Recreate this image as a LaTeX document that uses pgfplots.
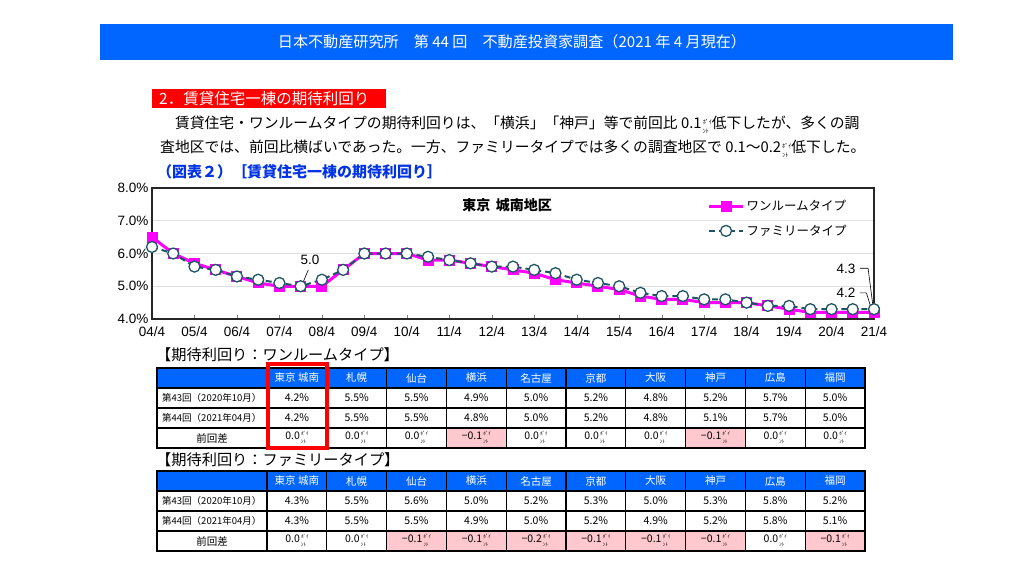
\documentclass[border=0pt]{standalone}
\usepackage{pgfplots}
\pgfplotsset{compat=1.18}
\usepackage{fontspec}
\setmainfont{Noto Sans CJK JP}
\newfontfamily\lib{Liberation Sans}
\definecolor{hdrblue}{RGB}{0,102,255}
\definecolor{ttl}{RGB}{0,51,230}
\definecolor{pinkcell}{RGB}{255,199,206}
\definecolor{mag}{RGB}{255,0,255}
\definecolor{teal2}{RGB}{30,85,100}
\newcommand\fs[1]{\fontsize{#1}{#1}\selectfont}
\newcommand\pnt[2]{\hspace{1.2pt}{\fontsize{#1}{#2}\selectfont\begin{tabular}[c]{@{}l@{}}ﾎﾟｲ\\ﾝﾄ\end{tabular}}}
\def\hdrs{東京 城南,札幌,仙台,横浜,名古屋,京都,大阪,神戸,広島,福岡}
\newcommand\drawtable[4]{%
 \fill[hdrblue] (157,-#1) rectangle (865,-#1-20);
 \foreach \v/\p [count=\i] in {#4} {\ifnum\p=1 \fill[pinkcell] ({267+(\i-1)*59.8},-#1-60) rectangle ({267+\i*59.8},-#1-80);\fi}
 \foreach \k in {0,20,40,60,80} {\draw[line width=1.1pt] (157,-#1-\k) -- (865,-#1-\k);}
 \foreach \i in {0,...,10} {\draw[line width=1.1pt] ({267+\i*59.8},-#1) -- ({267+\i*59.8},-#1-80);}
 \draw[line width=2pt] (157,-#1) rectangle (865,-#1-80);
 \foreach \h [count=\i] in \hdrs {\node[white,font=\fs{10.5},inner sep=0] at ({267+(\i-0.5)*59.8},-#1-10) {\h};}
 \node[anchor=west,font=\fs{9.5},inner sep=0] at (162,-#1-30) {第43回（2020年10月）};
 \node[anchor=west,font=\fs{9.5},inner sep=0] at (162,-#1-50) {第44回（2021年04月）};
 \node[font=\fs{10.5},inner sep=0] at (212,-#1-70) {前回差};
 \foreach \v [count=\i] in {#2} {\node[font=\fs{10.5},inner sep=0] at ({267+(\i-0.5)*59.8},-#1-30) {\v\%};}
 \foreach \v [count=\i] in {#3} {\node[font=\fs{10.5},inner sep=0] at ({267+(\i-0.5)*59.8},-#1-50) {\v\%};}
 \foreach \v/\p [count=\i] in {#4} {\node[font=\fs{10.5},inner sep=0] at ({267+(\i-0.5)*59.8},-#1-70) {\v\pnt{5}{7.5}};}
}
\begin{document}
\begin{tikzpicture}
\begin{scope}[x=1pt,y=1pt]
\useasboundingbox (0,0) rectangle (1024,-576);
\fill[white] (0,0) rectangle (1024,-576);
% banner
\fill[hdrblue] (100,-24) rectangle (953,-60);
\node[white,font=\fs{15.1}] at (512,-42) {日本不動産研究所　第 44 回　不動産投資家調査（2021 年 4 月現在）};
% heading
\fill[red] (152,-89) rectangle (386,-108);
\node[anchor=west,white,font=\fs{15.5},inner sep=0] at (159,-98.5) {2．賃貸住宅一棟の期待利回り};
\node[anchor=west,inner sep=0,font=\fs{14.8}] at (160,-126) {　賃貸住宅・ワンルームタイプの期待利回りは、「横浜」「神戸」等で前回比 0.1\pnt{6}{8.5}低下したが、多くの調};
\node[anchor=west,inner sep=0,font=\fs{14.8}] at (160,-150) {査地区では、前回比横ばいであった。一方、ファミリータイプでは多くの調査地区で 0.1～0.2\pnt{6}{8.5}低下した。};
\node[anchor=west,inner sep=0,font=\bfseries\fs{15},text=ttl] at (157,-172) {（図表２）［賃貸住宅一棟の期待利回り］};
% tables
\node[anchor=west,inner sep=0,font=\fs{15.2}] at (156,-355) {【期待利回り：ワンルームタイプ】};
\drawtable{368}{4.2,5.5,5.5,4.9,5.0,5.2,4.8,5.2,5.7,5.0}{4.2,5.5,5.5,4.8,5.0,5.2,4.8,5.1,5.7,5.0}{0.0/0,0.0/0,0.0/0,−0.1/1,0.0/0,0.0/0,0.0/0,−0.1/1,0.0/0,0.0/0}
\draw[red,line width=4pt] (268,-364) rectangle (327,-448);
\node[anchor=west,inner sep=0,font=\fs{15.2}] at (156,-460) {【期待利回り：ファミリータイプ】};
\drawtable{471}{4.3,5.5,5.6,5.0,5.2,5.3,5.0,5.3,5.8,5.2}{4.3,5.5,5.5,4.9,5.0,5.2,4.9,5.2,5.8,5.1}{0.0/0,0.0/0,−0.1/1,−0.1/1,−0.2/1,−0.1/1,−0.1/1,−0.1/1,0.0/0,−0.1/1}
\end{scope}
\begin{axis}[
 at={(152pt,-319pt)}, anchor=south west, scale only axis, width=722pt, height=131pt,
 xmin=0,xmax=17,ymin=4,ymax=8,
 xtick={0,...,17},
 xticklabels={04/4,05/4,06/4,07/4,08/4,09/4,10/4,11/4,12/4,13/4,14/4,15/4,16/4,17/4,18/4,19/4,20/4,21/4},
 ytick={4,5,6,7,8}, yticklabels={4.0\%,5.0\%,6.0\%,7.0\%,8.0\%},
 ymajorgrids, grid style={gray!25,line width=0.8pt},
 xtick pos=left, ytick pos=left, major tick length=4pt, ytick style={draw=none},
 axis line style={line width=1.3pt,black!85},
 tick label style={font=\lib\fs{13.5}},
 xticklabel style={yshift=-4pt},
 /pgf/number format/assume math mode=true,
 clip=false,
 legend image code/.code={\draw[mark repeat=2,mark phase=2] plot coordinates {(0pt,0pt)(17pt,0pt)(34pt,0pt)};},
 legend style={at={(rel axis cs:0.765,0.94)},anchor=north west,draw=none,fill=none,font=\fs{12.5},row sep=9pt},
 legend cell align=left,
]
\addplot[mag,line width=3pt,mark=square*,mark size=4pt,mark options={solid,fill=mag,draw=mag}] coordinates {
(0,6.5)(0.5,6.0)(1,5.7)(1.5,5.5)(2,5.3)(2.5,5.1)(3,5.0)(3.5,5.0)(4,5.0)(4.5,5.5)
(5,6.0)(5.5,6.0)(6,6.0)(6.5,5.8)(7,5.8)(7.5,5.7)(8,5.6)(8.5,5.5)(9,5.4)(9.5,5.2)
(10,5.1)(10.5,5.0)(11,4.9)(11.5,4.7)(12,4.6)(12.5,4.6)(13,4.5)(13.5,4.5)(14,4.5)(14.5,4.4)
(15,4.3)(15.5,4.2)(16,4.2)(16.5,4.2)(17,4.2)};
\addplot[teal2,line width=2pt,dash pattern=on 6pt off 4pt,mark=*,mark size=5.5pt,mark options={solid,fill=white,draw=teal2,line width=1.3pt}] coordinates {
(0,6.2)(0.5,6.0)(1,5.6)(1.5,5.5)(2,5.3)(2.5,5.2)(3,5.1)(3.5,5.0)(4,5.2)(4.5,5.5)
(5,6.0)(5.5,6.0)(6,6.0)(6.5,5.9)(7,5.8)(7.5,5.7)(8,5.6)(8.5,5.6)(9,5.5)(9.5,5.4)
(10,5.2)(10.5,5.1)(11,5.0)(11.5,4.8)(12,4.7)(12.5,4.7)(13,4.6)(13.5,4.6)(14,4.5)(14.5,4.4)
(15,4.4)(15.5,4.3)(16,4.3)(16.5,4.3)(17,4.3)};
\legend{ワンルームタイプ,ファミリータイプ}
\node[font=\bfseries\fs{14}] at (axis cs:8.36,7.48) {東京\hspace{0.4em}城南地区};
\node[font=\lib\fs{13.5}] at (axis cs:3.72,5.8) {5.0};
\draw[line width=0.6pt] (axis cs:3.68,5.5) -- (axis cs:3.55,5.1);
\node[font=\lib\fs{13.5}] at (axis cs:16.34,5.53) {4.3};
\draw[line width=0.6pt] (axis cs:16.67,5.55) -- (axis cs:16.86,5.55) -- (axis cs:16.98,4.35);
\node[font=\lib\fs{13.5}] at (axis cs:16.34,4.79) {4.2};
\draw[line width=0.6pt] (axis cs:16.67,4.8) -- (axis cs:16.82,4.8) -- (axis cs:16.96,4.22);
\end{axis}
\end{tikzpicture}
\end{document}
